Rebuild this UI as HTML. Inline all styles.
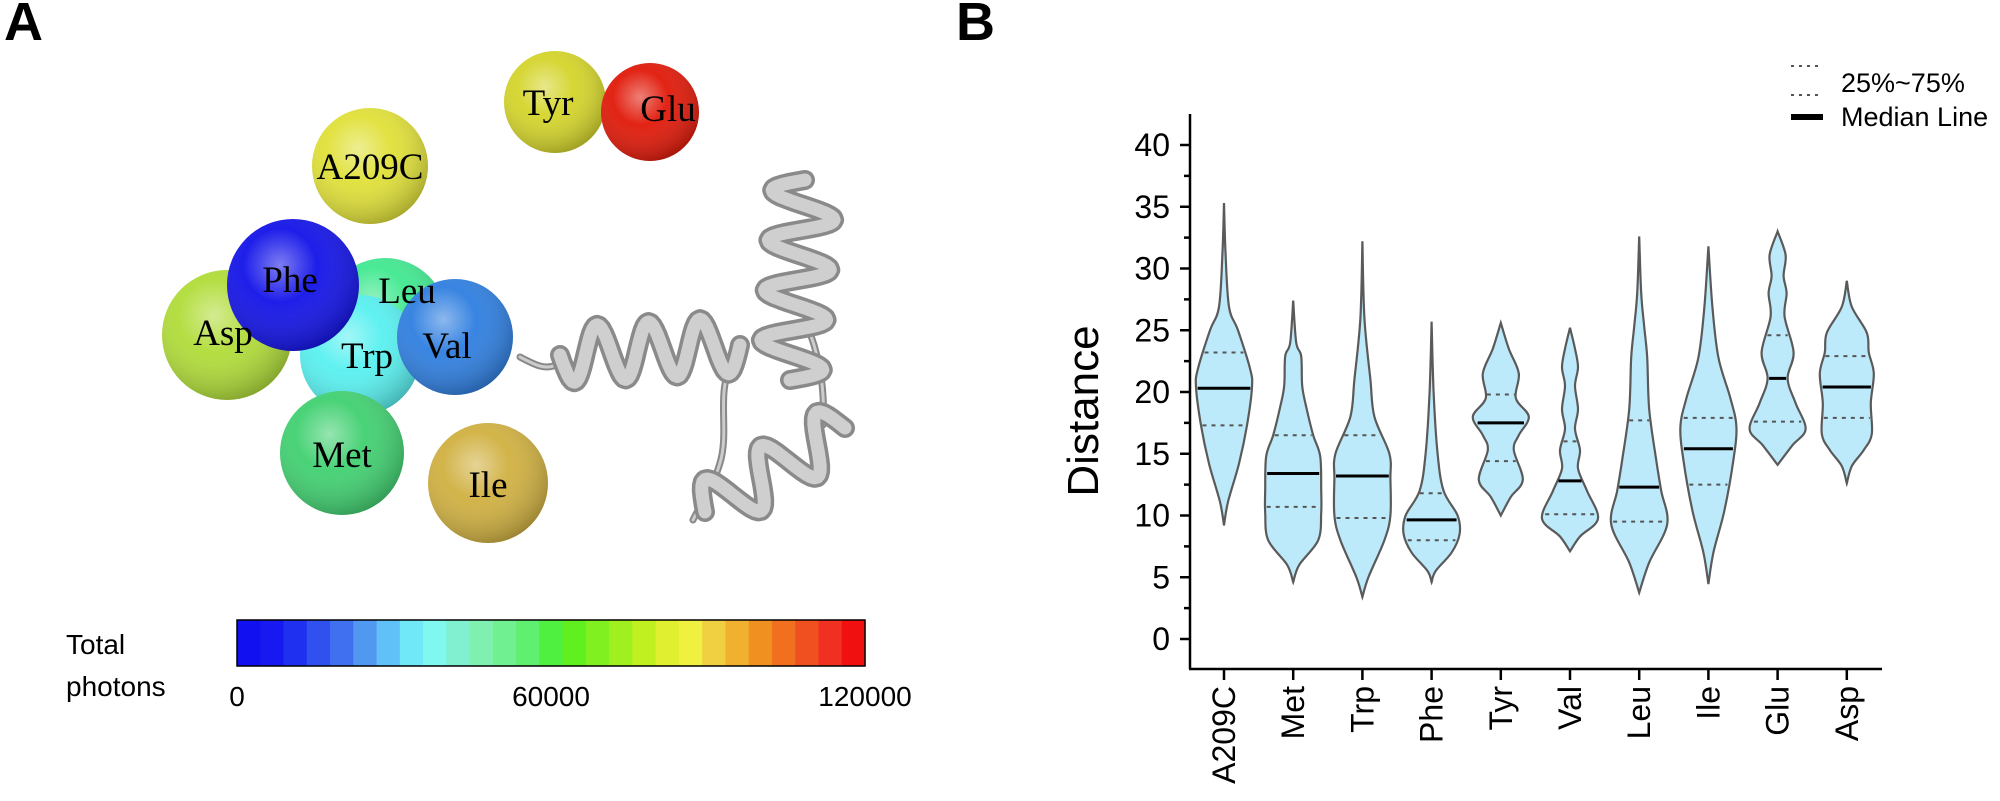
<!DOCTYPE html>
<html><head><meta charset="utf-8"><style>
body{margin:0;background:#fff;}
svg{display:block;}
</style></head><body>
<svg id="s" width="2000" height="801" xmlns="http://www.w3.org/2000/svg" font-family="Liberation Sans, Arial, sans-serif">
<defs>
<radialGradient id="gh" cx="0.4" cy="0.35" r="0.7">
<stop offset="0" stop-color="#fff" stop-opacity="0.45"/>
<stop offset="0.4" stop-color="#fff" stop-opacity="0.05"/>
<stop offset="1" stop-color="#000" stop-opacity="0.28"/>
</radialGradient>
</defs>
<text x="4" y="40" font-size="54" font-weight="bold">A</text>
<text x="956" y="40" font-size="54" font-weight="bold">B</text>

<g id="prot" fill="none" stroke-linecap="round" stroke-linejoin="round"></g>

<g>
<circle cx="555" cy="102" r="51" fill="#d4d42a"/><circle cx="555" cy="102" r="51" fill="url(#gh)"/>
<circle cx="650" cy="112" r="49" fill="#e01808"/><circle cx="650" cy="112" r="49" fill="url(#gh)"/>
<circle cx="370" cy="166" r="58" fill="#e0e038"/><circle cx="370" cy="166" r="58" fill="url(#gh)"/>
<circle cx="227" cy="335" r="65" fill="#b0dc38"/><circle cx="227" cy="335" r="65" fill="url(#gh)"/>
<circle cx="385" cy="320" r="62" fill="#40e890"/><circle cx="385" cy="320" r="62" fill="url(#gh)"/>
<circle cx="360" cy="355" r="60" fill="#58f0f0"/><circle cx="360" cy="355" r="60" fill="url(#gh)"/>
<circle cx="342" cy="453" r="62" fill="#40d070"/><circle cx="342" cy="453" r="62" fill="url(#gh)"/>
<circle cx="488" cy="483" r="60" fill="#d0b040"/><circle cx="488" cy="483" r="60" fill="url(#gh)"/>
<circle cx="293" cy="285" r="66" fill="#1212e8"/><circle cx="293" cy="285" r="66" fill="url(#gh)"/>
<circle cx="455" cy="337" r="58" fill="#2e7ee0"/><circle cx="455" cy="337" r="58" fill="url(#gh)"/>
</g>
<g font-family="Liberation Serif, serif" font-size="37" text-anchor="middle">
<text x="548" y="115">Tyr</text>
<text x="668" y="121">Glu</text>
<text x="370" y="179">A209C</text>
<text x="223" y="345">Asp</text>
<text x="407" y="303">Leu</text>
<text x="367" y="368">Trp</text>
<text x="342" y="467">Met</text>
<text x="488" y="497">Ile</text>
<text x="290" y="292">Phe</text>
<text x="447" y="358">Val</text>
</g>

<g id="cb"></g>
<rect x="237" y="620" width="628" height="46" fill="none" stroke="#000" stroke-width="1.5"/>
<g font-size="28">
<text x="66" y="654">Total</text>
<text x="66" y="696">photons</text>
<text x="237" y="706" text-anchor="middle">0</text>
<text x="551" y="706" text-anchor="middle">60000</text>
<text x="865" y="706" text-anchor="middle">120000</text>
</g>

<g id="ax" stroke="#000" stroke-width="2.5"></g>
<g id="vl"></g>
<g id="lbl" font-size="32"></g>
<text transform="translate(1098,411) rotate(-90)" font-size="44" text-anchor="middle">Distance</text>

<line x1="1791" y1="66" x2="1823" y2="66" stroke="#555" stroke-width="2" stroke-dasharray="3,5"/>
<line x1="1791" y1="95" x2="1823" y2="95" stroke="#555" stroke-width="2" stroke-dasharray="3,5"/>
<line x1="1791" y1="117" x2="1823" y2="117" stroke="#000" stroke-width="6"/>
<text x="1841" y="92" font-size="27">25%~75%</text>
<text x="1841" y="126" font-size="27">Median Line</text>
</svg>
<script>
var NS="http://www.w3.org/2000/svg";
function el(t,a,p){var e=document.createElementNS(NS,t);for(var k in a)e.setAttribute(k,a[k]);(p||document.getElementById('s')).appendChild(e);return e;}
var pg=document.getElementById('prot');
function helix(x1,y1,x2,y2,n,A){var dx=x2-x1,dy=y2-y1,L=Math.hypot(dx,dy),nx=-dy/L,ny=dx/L;var pts=[];
 for(var i=0;i<=n*24;i++){var t=i/(n*24);var s=A*Math.sin(2*Math.PI*n*t);pts.push((x1+dx*t+nx*s).toFixed(1)+","+(y1+dy*t+ny*s).toFixed(1));}
 var d="M"+pts.join(" L");el('path',{d:d,stroke:'#8a8a8a','stroke-width':20},pg);el('path',{d:d,stroke:'#cfcfcf','stroke-width':13},pg);}
function loop(d){el('path',{d:d,stroke:'#888','stroke-width':7},pg);el('path',{d:d,stroke:'#ccc','stroke-width':3},pg);}
loop("M520,357 C535,365 545,370 556,365");
loop("M733,363 C715,390 730,430 720,463 C712,490 700,505 693,520");
loop("M810,333 C820,360 825,390 823,425");
helix(560,355,740,345,3.5,28);
helix(805,180,790,380,4,32);
helix(845,428,705,512,2.5,28);
var cols=["#1010f0","#1818f0","#2030f0","#3050f0","#4070f0","#5098f0","#60c0f8","#70e8f8","#80f8f0","#80f0d0","#80f0b0","#70f090","#60f070","#50f040","#60f020","#80f020","#a0f020","#c0f020","#e0f030","#f0f040","#f0d040","#f0b030","#f09020","#f07020","#f05020","#f03020","#f01010"];
var cb=document.getElementById('cb');var w=628/cols.length;
cols.forEach(function(c,i){el('rect',{x:237+i*w,y:620,width:w+0.6,height:46,fill:c},cb);});
function Y(v){return 145+(40-v)*12.35;}
var ax=document.getElementById('ax');
el('line',{x1:1190,y1:114,x2:1190,y2:669},ax);
el('line',{x1:1189,y1:669,x2:1882,y2:669},ax);
var lbl=document.getElementById('lbl');
for(var v=0;v<=40;v+=2.5){var maj=(v%5==0);el('line',{x1:maj?1180:1184,y1:Y(v),x2:1190,y2:Y(v)},ax);
 if(maj){var t=el('text',{x:1170,y:Y(v)+11,'text-anchor':'end'},lbl);t.textContent=v;}}
var names=["A209C","Met","Trp","Phe","Tyr","Val","Leu","Ile","Glu","Asp"];
var C=function(i){return 1224+i*69.2;};
names.forEach(function(n,i){el('line',{x1:C(i),y1:669,x2:C(i),y2:680},ax);
 var t=el('text',{transform:'translate('+(C(i)+11)+',686) rotate(-90)','text-anchor':'end'},lbl);t.textContent=n;});
var D=[
[35.3,9.2,20.3,17.3,23.2,[[31.3,1.5],[26.9,5],[25,14],[21.9,26],[20.4,28],[17.3,23],[14.2,15],[11.1,4]]],
[27.4,4.6,13.4,10.7,16.5,[[24,3],[22.9,8],[20.5,9],[18.8,13],[16.5,20],[14.8,27],[12.1,28],[10.2,28],[8,25],[6,6]]],
[32.2,3.4,13.2,9.8,16.5,[[26,2],[21,8],[18,12],[15,27],[13,28],[10,28],[8,22],[5,6]]],
[25.7,4.6,9.65,8.0,11.8,[[20,2],[15,6],[12,12],[10,26],[8.5,28],[7,20],[5.5,4]]],
[25.6,10.0,17.5,14.4,19.8,[[23.5,8],[21.5,18],[19.5,15],[18,28],[16.5,18],[15.3,13],[12.9,22],[11.5,10]]],
[25.2,7.1,12.8,10.1,16.0,[[23.5,5],[22,8],[20.5,5],[18.6,8],[17,5],[15.3,10],[13.8,8],[12,17],[9.75,28],[8.3,10]]],
[32.6,3.75,12.3,9.5,17.7,[[28,2],[25.3,5],[22.8,8],[18.6,10],[14.5,17],[12,22],[9.3,28],[6.2,10]]],
[31.8,4.45,15.4,12.5,17.9,[[26.9,4],[22.8,10],[19.5,22],[17.2,28],[14.5,25],[10.4,16],[7,5]]],
[33.0,14.1,21.1,17.6,24.6,[[31.1,8],[29.4,6],[28,9],[26.1,7],[23.2,16],[21.1,10],[19.1,18],[17,28],[15.7,15]]],
[29.0,12.6,20.4,17.9,22.9,[[26.9,5],[24.8,20],[23.2,22],[21.5,27],[19.1,24],[16.6,25],[15.3,17],[14,5]]]
];
var vl=document.getElementById('vl');
function hwAt(p,v){for(var k=0;k<p.length-1;k++){if(v<=p[k][0]&&v>=p[k+1][0]){var f=(p[k][0]-v)/(p[k][0]-p[k+1][0]);return p[k][1]+f*(p[k+1][1]-p[k][1]);}}return 0;}
function smooth(pts){var d="M"+pts[0][0]+","+pts[0][1];for(var i=0;i<pts.length-1;i++){var p0=pts[i-1]||pts[i],p1=pts[i],p2=pts[i+1],p3=pts[i+2]||p2;
 d+=" C"+(p1[0]+(p2[0]-p0[0])/6)+","+(p1[1]+(p2[1]-p0[1])/6)+" "+(p2[0]-(p3[0]-p1[0])/6)+","+(p2[1]-(p3[1]-p1[1])/6)+" "+p2[0]+","+p2[1];}return d;}
D.forEach(function(d,i){var cx=C(i);var prof=[[d[0],0]].concat(d[5]).concat([[d[1],0]]);
 var R=prof.map(function(q){return [cx+q[1],Y(q[0])];});
 var L=prof.slice().reverse().map(function(q){return [cx-q[1],Y(q[0])];});
 var dd=smooth(R)+" "+smooth(L).replace(/^M/,"L")+" Z";
 el('path',{d:dd,fill:'#bdeafb',stroke:'#5a5a5a','stroke-width':2.2},vl);
 [[d[3],1],[d[4],1],[d[2],0]].forEach(function(q){var h=hwAt(prof,q[0])-1.5;
  el('line',{x1:cx-h,y1:Y(q[0]),x2:cx+h,y2:Y(q[0]),stroke:q[1]?'#555':'#000','stroke-width':q[1]?2:3,'stroke-dasharray':q[1]?'4,5':'none'},vl);});
});
</script>
</body></html>
